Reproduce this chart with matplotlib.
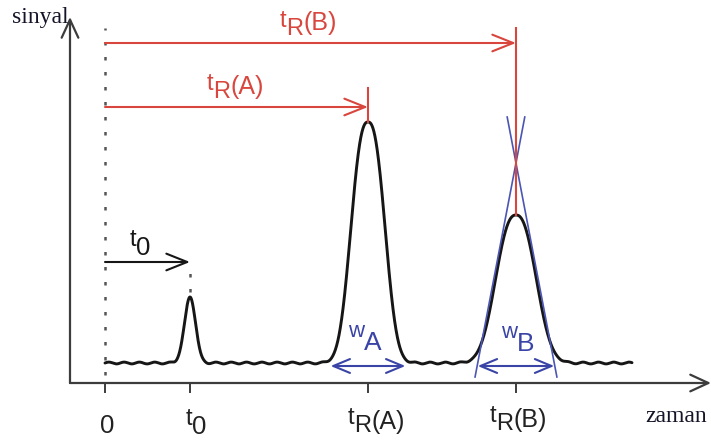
import numpy as np
import matplotlib
matplotlib.use("Agg")
import matplotlib.pyplot as plt
from matplotlib import transforms as mtransforms

# ---------------- data ----------------
peak_names = ["t0", "A", "B"]
retention_times = [1.0, 3.094, 4.835]      # time, in units of t0
peak_heights = [66, 241, 148]              # detector signal
peak_scales = [0.065, 0.19, 0.228]         # peak width parameter (time)
peak_shapes = [2.0, 2.5, 2.4]              # peak exponent (2 = Gaussian)
peak_base_widths = [0.88, 0.90]            # w_A, w_B (time)
tangent_apex_B = 200                       # height where the tangents of B meet
trace_end = 6.2                            # end of recorded trace
tick_positions = [0.0, 1.0, 3.094, 4.835]
ripple_amp = 0.9                           # baseline noise amplitude (style)

# ---------------- layout helpers ----------------
X0_PX, PX_PER_T, BASE_PX = 105, 85.0, 363
W, H = 711, 444


def P(xpx, ypx):
    """pixel position -> data position (layout only)"""
    return ((xpx - X0_PX) / PX_PER_T, BASE_PX - ypx)


RED = "#d8463e"
BLUE = "#3a44a6"
TBLUE = "#4b55b4"
BLACK = "#161616"
AXC = "#3c3c3c"
SANS = "Liberation Sans"
SERIF = "Liberation Serif"

fig = plt.figure(figsize=(W / 100, H / 100), dpi=100)
ax = fig.add_axes([0, 0, 1, 1])
ax.set_xlim(P(0, 0)[0], P(W, 0)[0])
ax.set_ylim(P(0, H)[1], P(0, 0)[1])
ax.axis("off")

# ---------------- chromatogram trace ----------------
t = np.linspace(0, trace_end, 3000)
signal = np.zeros_like(t)
for tr, h, s, p in zip(retention_times, peak_heights, peak_scales, peak_shapes):
    signal += h * np.exp(-0.5 * np.abs((t - tr) / s) ** p)
signal += ripple_amp * np.sin(2 * np.pi * t / 0.18) * np.exp(-signal / 4)
ax.plot(t, signal, color=BLACK, lw=2.1, solid_capstyle="round", zorder=5)

# ---------------- axes with arrows ----------------
ax_y0 = P(0, 383)[1]
ax_x0 = P(70, 0)[0]
ax.annotate("", xy=(ax_x0, P(0, 17)[1]), xytext=(ax_x0, ax_y0),
            arrowprops=dict(arrowstyle="->,head_length=1.3,head_width=0.6",
                            lw=1.6, color=AXC, shrinkA=0, shrinkB=0))
ax.annotate("", xy=(P(711, 0)[0], ax_y0), xytext=(ax_x0, ax_y0),
            arrowprops=dict(arrowstyle="->,head_length=1.3,head_width=0.6",
                            lw=1.6, color=AXC, shrinkA=0, shrinkB=0))
for tp in tick_positions:
    ax.plot([tp, tp], [ax_y0, P(0, 392)[1]], color=AXC, lw=1.4)

ax.text(*P(12, 23), "sinyal", family=SERIF, fontsize=17, color="#141428",
        ha="left", va="baseline")
ax.text(*P(645, 422), "zaman", family=SERIF, fontsize=17, color="#141428",
        ha="left", va="baseline")

# dotted injection line
ax.plot([0, 0], [P(0, 375)[1], P(0, 28)[1]], color="#555555", lw=1.8,
        linestyle=(0, (1.4, 4.6)), zorder=2)
# dotted line above t0 peak
ax.plot([retention_times[0]] * 2, [P(0, 292)[1], P(0, 272)[1]], color="#555555",
        lw=1.8, linestyle=(0, (1.4, 4.6)), zorder=2)

# ---------------- retention time arrows ----------------
arrow_red = dict(arrowstyle="->,head_length=1.5,head_width=0.6", lw=1.5,
                 color=RED, shrinkA=0, shrinkB=0)
ax.annotate("", xy=(retention_times[2], P(0, 43)[1]), xytext=(0, P(0, 43)[1]),
            arrowprops=arrow_red)
ax.annotate("", xy=(retention_times[1], P(0, 107)[1]), xytext=(0, P(0, 107)[1]),
            arrowprops=arrow_red)
ax.plot([retention_times[2]] * 2, [peak_heights[2], P(0, 28)[1]], color=RED,
        lw=1.5, zorder=7)
ax.plot([retention_times[1]] * 2, [peak_heights[1], P(0, 88)[1]], color=RED,
        lw=1.5, zorder=7)
ax.annotate("", xy=(retention_times[0], P(0, 262)[1]), xytext=(0, P(0, 262)[1]),
            arrowprops=dict(arrowstyle="->,head_length=1.5,head_width=0.6",
                            lw=1.5, color=BLACK, shrinkA=0, shrinkB=0))

# ---------------- peak widths ----------------
for tr, wb in zip(retention_times[1:], peak_base_widths):
    ax.annotate("", xy=(tr + wb / 2, -3), xytext=(tr - wb / 2, -3),
                arrowprops=dict(arrowstyle="<->,head_length=1.2,head_width=0.5",
                                lw=1.5, color=BLUE, shrinkA=0, shrinkB=0),
                zorder=6)

# tangents of peak B
trB, wB = retention_times[2], peak_base_widths[1]
y_lo, y_hi = P(0, 377)[1], P(0, 117)[1]
for sgn in (-1, 1):
    x_base = trB + sgn * wB / 2
    slope = tangent_apex_B / (trB - x_base)
    xs = [x_base + y_lo / slope, x_base + y_hi / slope]
    ax.plot(xs, [y_lo, y_hi], color=TBLUE, lw=1.2, zorder=6)

# ---------------- compound labels ----------------
renderer = fig.canvas.get_renderer()


def compound(xpx, ypx, parts, color):
    widths = []
    for s, size, dy in parts:
        tmp = ax.text(0, 0, s, fontsize=size, family=SANS)
        widths.append(tmp.get_window_extent(renderer).width)
        tmp.remove()
    xoff = -sum(widths) / 2
    x, y = P(xpx, ypx)
    for (s, size, dy), w in zip(parts, widths):
        tr = mtransforms.offset_copy(ax.transData, fig=fig, x=xoff, y=dy,
                                     units="dots")
        ax.text(x, y, s, transform=tr, fontsize=size, family=SANS, color=color,
                ha="left", va="baseline", zorder=8)
        xoff += w


LBL = "#222222"
# bottom tick labels
compound(107, 433, [("0", 18.5, 0)], LBL)
compound(196, 434, [("t", 17, 9), ("0", 18.5, 0)], LBL)
compound(376, 429, [("t", 17, 5), ("R", 17, -3), ("(A)", 18, 0)], LBL)
compound(518, 427, [("t", 17, 5), ("R", 17, -3), ("(B)", 18, 0)], LBL)

# top labels
compound(308, 30, [("t", 17, 3), ("R", 17, -5), ("(B)", 18, 0)], RED)
compound(235, 94, [("t", 17, 4), ("R", 17, -4), ("(A)", 18, 0)], RED)
compound(140, 255, [("t", 17, 9), ("0", 18.5, 0)], BLACK)

# width labels
compound(365, 350, [("w", 16, 13), ("A", 19, 0)], BLUE)
compound(518, 351, [("w", 16, 13), ("B", 19, 0)], BLUE)

fig.savefig("out.png", dpi=100)
